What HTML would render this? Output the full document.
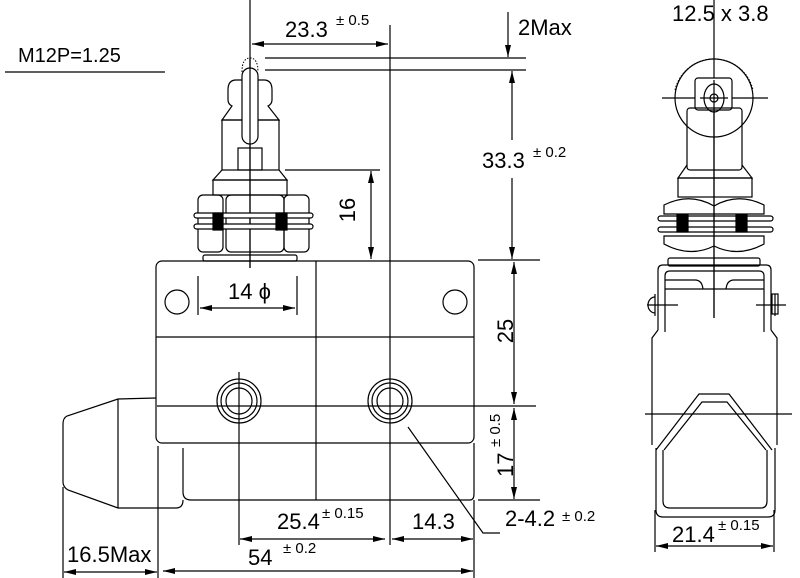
<!DOCTYPE html>
<html><head><meta charset="utf-8"><style>
html,body{margin:0;padding:0;background:#fff;}
svg{display:block;}
text{font-family:"Liberation Sans",sans-serif;fill:#000;font-size:22px;}
text.s{font-size:15px;}
</style></head><body>
<svg width="800" height="578" viewBox="0 0 800 578" xmlns="http://www.w3.org/2000/svg">
<defs>
<marker id="a" viewBox="0 0 12 6" refX="12" refY="3" markerWidth="12" markerHeight="6" orient="auto-start-reverse" markerUnits="userSpaceOnUse"><path d="M0,0 L12,3 L0,6 Z" fill="#000"/></marker>
</defs>
<g fill="none" stroke="#000" stroke-width="1.2">
<line x1="5" y1="72" x2="165" y2="72"/>
<rect x="156" y="261" width="318" height="182" rx="6"/>
<line x1="316" y1="261" x2="316" y2="500"/>
<line x1="156" y1="337" x2="474" y2="337"/>
<circle cx="177" cy="302" r="12"/>
<circle cx="455" cy="302" r="12"/>
<circle cx="239" cy="401" r="22"/><circle cx="239" cy="401" r="18"/><circle cx="239" cy="401" r="13"/>
<circle cx="390" cy="401" r="22"/><circle cx="390" cy="401" r="18"/><circle cx="390" cy="401" r="13"/>
<line x1="157" y1="406" x2="536" y2="406"/>
<line x1="390" y1="25" x2="390" y2="545"/>
<line x1="239" y1="372" x2="239" y2="545"/>
<line x1="158" y1="446" x2="158" y2="578"/>
<path d="M183,448 L183,492 Q183,500 191,500 L470,500 Q474,500 474,494 L474,443"/>
<line x1="474" y1="500" x2="474" y2="578"/>
<path d="M156,398 L118,399 L67,416 Q63,418 63,424 L63,482 Q63,487 68,490 L118,508 L176,508 Q183,508 183,500"/>
<line x1="118" y1="399" x2="118" y2="508"/>
<line x1="250" y1="0" x2="250" y2="268"/>
<path d="M242,72 Q242,58 250,58 Q258,58 258,72" stroke-dasharray="1.5,1.5" stroke-width="1"/>
<path d="M242,80 L236,80 Q228,80 228,90 L228,100 Q228,104 232,106 L222,120 L279,120 L268,106 Q272,104 272,100 L272,90 Q272,80 264,80 L258,80"/>
<rect x="222" y="120" width="57" height="50"/>
<rect x="238" y="148" width="24" height="22"/>
<rect x="242" y="68" width="16" height="76" rx="8" fill="#fff"/>
<line x1="250" y1="58" x2="250" y2="268"/>
<path d="M222,170 L213,180 L287,180 L279,170"/>
<rect x="213" y="180" width="74" height="15"/>
<rect x="198" y="195" width="25" height="57" rx="5"/>
<rect x="226" y="195" width="58" height="57" rx="5"/>
<rect x="284" y="195" width="25" height="57" rx="5"/>
<rect x="194" y="213" width="119" height="5" rx="2.5" fill="#fff"/>
<rect x="194" y="224" width="119" height="5" rx="2.5" fill="#fff"/>
<rect x="213" y="213" width="10" height="17" fill="#000"/>
<rect x="276" y="213" width="11" height="17" fill="#000"/>
<rect x="203" y="255" width="94" height="6" rx="2"/>
<line x1="265" y1="58" x2="526" y2="58"/>
<line x1="265" y1="70" x2="526" y2="70"/>
<line x1="508" y1="12" x2="508" y2="57" marker-end="url(#a)"/>
<line x1="252" y1="44" x2="388" y2="44" marker-start="url(#a)" marker-end="url(#a)"/>
<line x1="512" y1="140" x2="512" y2="71" marker-end="url(#a)"/>
<line x1="512" y1="178" x2="512" y2="259" marker-end="url(#a)"/>
<line x1="478" y1="260" x2="540" y2="260"/>
<line x1="514" y1="262" x2="514" y2="404" marker-start="url(#a)" marker-end="url(#a)"/>
<line x1="514" y1="408" x2="514" y2="499" marker-start="url(#a)" marker-end="url(#a)"/>
<line x1="478" y1="500" x2="540" y2="500"/>
<line x1="285" y1="170" x2="380" y2="170"/>
<line x1="371" y1="171" x2="371" y2="259" marker-start="url(#a)" marker-end="url(#a)"/>
<line x1="198" y1="276" x2="198" y2="315"/>
<line x1="297" y1="276" x2="297" y2="315"/>
<line x1="200" y1="308" x2="295" y2="308" marker-start="url(#a)" marker-end="url(#a)"/>
<line x1="63" y1="487" x2="63" y2="578"/>
<line x1="64" y1="572" x2="157" y2="572" marker-start="url(#a)" marker-end="url(#a)"/>
<line x1="163" y1="571" x2="473" y2="571" marker-start="url(#a)" marker-end="url(#a)"/>
<line x1="240" y1="539" x2="385" y2="539" marker-start="url(#a)" marker-end="url(#a)"/>
<line x1="392" y1="539" x2="473" y2="539" marker-start="url(#a)" marker-end="url(#a)"/>
<polyline points="408,427 483,533 500,533"/>
<line x1="714" y1="0" x2="714" y2="318"/>
<line x1="662" y1="98" x2="768" y2="98"/>
<circle cx="714" cy="98" r="39"/>
<path d="M675,90 A40,40 0 0 1 753,90" stroke-dasharray="1.5,1.5" stroke-width="1"/>
<rect x="695" y="78" width="37" height="32" rx="3" fill="#fff"/>
<ellipse cx="714" cy="98" rx="10" ry="14"/>
<circle cx="714" cy="98" r="4"/>
<line x1="714" y1="80" x2="714" y2="318"/>
<line x1="700" y1="98" x2="728" y2="98"/>
<rect x="687" y="108" width="55" height="62" rx="3"/>
<path d="M687,165 L678,178 L752,178 L742,165"/>
<rect x="678" y="178" width="74" height="19"/>
<path d="M664,214 L664,205 Q690,192 714,206 Q738,192 764,205 L764,214 Z"/>
<rect x="658" y="216" width="115" height="5" rx="2.5"/>
<rect x="658" y="227" width="115" height="5" rx="2.5"/>
<rect x="677" y="215" width="11" height="17" fill="#000"/>
<rect x="736" y="215" width="11" height="17" fill="#000"/>
<path d="M664,236 L764,236 L764,244 Q738,258 714,246 Q690,258 664,244 Z"/>
<rect x="668" y="258" width="92" height="8" rx="2"/>
<path d="M658,330 L658,270 Q658,265 663,265 L766,265 Q771,265 771,270 L771,330"/>
<path d="M665,332 L665,276 Q665,271 670,271 L759,271 Q764,271 764,276 L764,332"/>
<line x1="665" y1="289" x2="764" y2="289"/>
<path d="M665,280 L695,280 Q702,280 703,289 M764,280 L734,280 Q727,280 726,289"/>
<path d="M658,330 L652,338 L652,445 M771,330 L777,338 L777,445"/>
<path d="M656,450 L699,394 L729,394 L772,450"/>
<path d="M664,450 L702,402 L727,402 L766,450"/>
<path d="M656,448 L656,510 Q656,517 663,517 L768,517 Q775,517 775,510 L775,448"/>
<path d="M663,450 L663,501 Q663,508 670,508 L761,508 Q767,508 767,501 L767,450"/>
<line x1="645" y1="414" x2="792" y2="414"/>
<path d="M655,297 A7,8 0 0 0 655,313"/>
<line x1="647" y1="305" x2="678" y2="305"/>
<line x1="655" y1="294" x2="655" y2="316"/>
<rect x="772" y="294" width="6" height="20"/>
<line x1="756" y1="305" x2="786" y2="305"/>
<line x1="775" y1="294" x2="775" y2="316"/>
<line x1="655" y1="510" x2="655" y2="552"/>
<line x1="774" y1="510" x2="774" y2="552"/>
<line x1="656" y1="546" x2="773" y2="546" marker-start="url(#a)" marker-end="url(#a)"/>
</g>
<text x="18" y="62" style="font-size:20px">M12P=1.25</text>
<text x="285" y="37">23.3</text><text class="s" x="336" y="25">± 0.5</text>
<text x="518" y="35">2Max</text>
<text x="482" y="168">33.3</text><text class="s" x="533" y="157">± 0.2</text>
<text x="672" y="21">12.5 x 3.8</text>
<text x="228" y="299">14 ϕ</text>
<text transform="translate(355,210) rotate(-90)" text-anchor="middle">16</text>
<text transform="translate(513,331) rotate(-90)" text-anchor="middle">25</text>
<text transform="translate(513,477) rotate(-90)">17</text>
<text class="s" transform="translate(500,447) rotate(-90)">± 0.5</text>
<text x="277" y="529">25.4</text><text class="s" x="322" y="518">± 0.15</text>
<text x="412" y="529">14.3</text>
<text x="505" y="526">2-4.2</text><text class="s" x="562" y="521">± 0.2</text>
<text x="67" y="562">16.5Max</text>
<text x="248" y="565">54</text><text class="s" x="283" y="553">± 0.2</text>
<text x="672" y="542">21.4</text><text class="s" x="718" y="530">± 0.15</text>
</svg>
</body></html>
